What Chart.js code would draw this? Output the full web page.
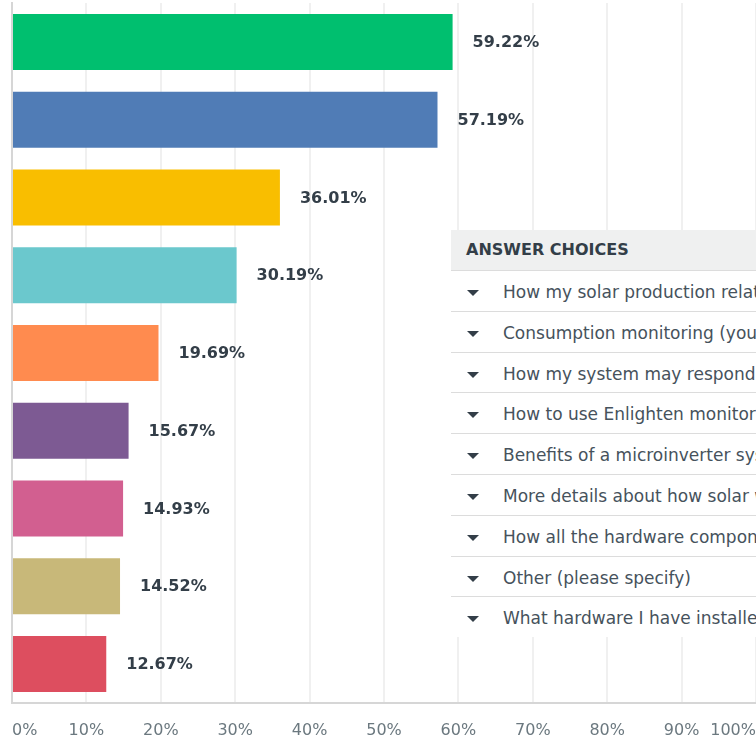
<!DOCTYPE html>
<html>
<head>
<meta charset="utf-8">
<script src="https://cdn.jsdelivr.net/npm/chart.js@4.4.0/dist/chart.umd.min.js"></script>
<style>
  html, body { margin: 0; padding: 0; background: #fff; overflow: hidden; }
  #wrap { position: relative; width: 756px; height: 740px; }
  #chart { display: block; }
  #choices {
    position: absolute; left: 451px; top: 230px; width: 420px;
    background: #fff; font-family: "DejaVu Sans", sans-serif; color: #333e48;
  }
  #choices .head {
    height: 40px; line-height: 40px; background: #eff0f0;
    padding-left: 15px; font-weight: 700; font-size: 16px;
  }
  #choices .row {
    position: relative; height: 40.8px; line-height: 42px;
    padding-left: 52px; font-size: 17px; white-space: nowrap; overflow: hidden;
    border-top: 1.5px solid #dcdcdc; box-sizing: border-box; color: #46525c;
  }
  #choices .row:first-of-type { border-top: none; }
  #choices .row::before {
    content: ""; position: absolute; left: 16px; top: 19px;
    border-left: 6px solid transparent; border-right: 6px solid transparent;
    border-top: 6px solid #333e48;
  }
</style>
</head>
<body>
<div id="wrap">
  <canvas id="chart" width="756" height="740"></canvas>
  <div id="choices"></div>
</div>
<script>
// Answer choices, in bar order (top to bottom)
const answers = [
    'How my solar production relates to my energy use',
    'Consumption monitoring (your home energy use)',
    'How my system may respond to a grid outage',
    'How to use Enlighten monitoring',
    'Benefits of a microinverter system',
    'More details about how solar works',
    'How all the hardware components work together',
    'Other (please specify)',
    'What hardware I have installed'
];
const percents = [59.22, 57.19, 36.01, 30.19, 19.69, 15.67, 14.93, 14.52, 12.67];
const barColors = ['#00bf6f', '#507cb6', '#f9be00', '#6bc8cd', '#ff8b4f', '#7d5a93', '#d25f90', '#c8b879', '#dd4e5f'];
const tickValues = [0, 10, 20, 30, 40, 50, 60, 70, 80, 90, 100];

// value labels at the end of each bar
const barValueLabels = {
    id: 'barValueLabels',
    afterDatasetsDraw(chart) {
        const ctx = chart.ctx;
        const meta = chart.getDatasetMeta(0);
        ctx.save();
        ctx.font = '700 16px "DejaVu Sans", sans-serif';
        ctx.fillStyle = '#333e48';
        ctx.textBaseline = 'middle';
        ctx.textAlign = 'left';
        meta.data.forEach((bar, i) => {
            ctx.fillText(percents[i].toFixed(2) + '%', bar.x + 20, bar.y + 1);
        });
        ctx.restore();
    }
};

new Chart(document.getElementById('chart'), {
    type: 'bar',
    data: {
        labels: answers,
        datasets: [{
            data: percents,
            backgroundColor: barColors,
            borderWidth: 0,
            categoryPercentage: 1,
            barPercentage: 0.72
        }]
    },
    options: {
        indexAxis: 'y',
        responsive: false,
        animation: false,
        layout: { padding: { left: 11, top: 3, right: 0, bottom: 0 } },
        plugins: { legend: { display: false }, tooltip: { enabled: false } },
        scales: {
            x: {
                min: 0,
                max: 100,
                afterBuildTicks: (scale) => { scale.ticks = tickValues.map(v => ({ value: v })); },
                afterFit: (scale) => {
                    scale.height = 37;
                    scale.paddingLeft = 0;
                    scale.paddingRight = 0;
                },
                grid: { color: '#f0f0f0', lineWidth: 2, drawTicks: false },
                border: { color: '#d6d6d6', width: 2 },
                ticks: {
                    align: 'inner',
                    padding: 18,
                    color: '#6b787f',
                    font: { family: '"DejaVu Sans", sans-serif', size: 16 },
                    callback: (v) => v + '%'
                }
            },
            y: {
                afterFit: (scale) => { scale.width = 1; },
                grid: { display: false, drawTicks: false },
                border: { color: '#d6d6d6', width: 2 },
                ticks: { display: false }
            }
        }
    },
    plugins: [barValueLabels]
});

// answer choices panel
const box = document.getElementById('choices');
box.innerHTML = '<div class="head">ANSWER CHOICES</div>' +
    answers.map(a => `<div class="row">${a}</div>`).join('');
</script>
</body>
</html>
